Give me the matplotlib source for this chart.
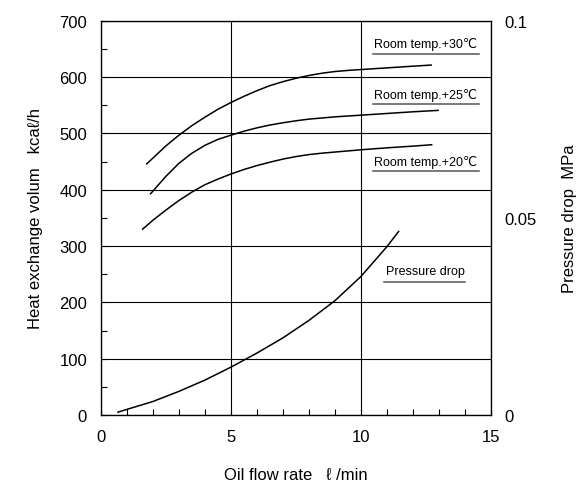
import matplotlib
matplotlib.use("Agg")
import matplotlib.pyplot as plt
from matplotlib.ticker import MultipleLocator

plt.rcParams['font.family'] = ['Liberation Sans', 'DejaVu Sans']

# heat exchange curves (oil flow l/min, kcal/h)
flow_30 = [1.76, 2.5, 3.0, 3.5, 4.0, 4.5, 5.0, 5.5, 6.0, 6.5, 7.0, 7.5, 8.0, 8.5, 9.0, 9.5, 10.0, 11.0, 12.0, 12.7]
heat_30 = [446, 478, 497, 514, 529, 543, 555, 566, 576, 585, 592, 598, 603, 607, 610, 612, 613.5, 616.5, 619.5, 621.5]

flow_25 = [1.91, 2.5, 3.0, 3.5, 4.0, 4.5, 5.0, 5.5, 6.0, 6.5, 7.0, 7.5, 8.0, 9.0, 10.0, 11.0, 12.0, 12.97]
heat_25 = [393, 424, 447, 465, 479, 489.5, 497, 504, 510, 515, 519, 522.5, 525.5, 529.5, 532.5, 535.5, 538.5, 541]

flow_20 = [1.6, 2.0, 2.5, 3.0, 3.5, 4.0, 4.5, 5.0, 5.5, 6.0, 6.5, 7.0, 7.5, 8.0, 8.5, 9.0, 10.0, 11.0, 12.0, 12.72]
heat_20 = [330, 346, 364, 381, 396, 409, 419, 428, 436, 443, 449, 454.5, 459, 462.5, 465, 467, 471, 474.5, 477.5, 480]

# pressure drop, drawn on the heat scale (700 = 0.1 MPa)
flow_p = [0.65, 1.0, 2.0, 3.0, 4.0, 5.0, 6.0, 7.0, 8.0, 9.0, 10.0, 11.0, 11.45]
press_p = [5, 10, 24, 42, 62, 85, 110, 137, 168, 203, 246, 299, 326]

labels = ["Room temp.+30\u2103", "Room temp.+25\u2103", "Room temp.+20\u2103", "Pressure drop"]

fig = plt.figure(figsize=(5.76, 4.89), dpi=100)
ax = fig.add_axes([0.1753, 0.1493, 0.677, 0.806])

ax.set_xlim(0, 15)
ax.set_ylim(0, 700)
ax.xaxis.set_major_locator(MultipleLocator(5))
ax.xaxis.set_minor_locator(MultipleLocator(1))
ax.yaxis.set_major_locator(MultipleLocator(100))
ax.yaxis.set_minor_locator(MultipleLocator(50))
ax.grid(True, which="major", color="black", linewidth=0.8)
ax.tick_params(which="both", direction="in", length=4, width=0.8, right=True, top=False,
               labelsize=12, pad=10, color="black")
for s in ax.spines.values():
    s.set_linewidth(0.9)

lw = 1.1
ax.plot(flow_30, heat_30, color="black", linewidth=lw)
ax.plot(flow_25, heat_25, color="black", linewidth=lw)
ax.plot(flow_20, heat_20, color="black", linewidth=lw)
ax.plot(flow_p, press_p, color="black", linewidth=lw)

# labels with underline
lab_pos = [(10.5, 659, 641), (10.5, 570, 552), (10.5, 451, 433), (10.95, 255, 236)]
for txt, (x, y, uy) in zip(labels, lab_pos):
    t = ax.text(x, y, txt, fontsize=9, ha="left", va="center")
    w = 14.6 - x if "Room" in txt else 14.05 - x
    ax.plot([x - 0.05, x - 0.05 + w], [uy, uy], color="#555555", linewidth=1.1)

ax.set_xlabel("Oil flow rate   \u2113 /min", fontsize=12, labelpad=17)
ax.set_ylabel("Heat exchange volum   kca\u2113/h", fontsize=12, labelpad=12)

ax2 = ax.twinx()
ax2.set_ylim(0, 0.1)
ax2.set_yticks([0, 0.05, 0.1])
ax2.set_yticklabels(["0", "0.05", "0.1"])
ax2.tick_params(length=0, labelsize=12, pad=10)
ax2.set_ylabel("Pressure drop  MPa", fontsize=12, labelpad=18)

fig.savefig("out.png", dpi=100)
